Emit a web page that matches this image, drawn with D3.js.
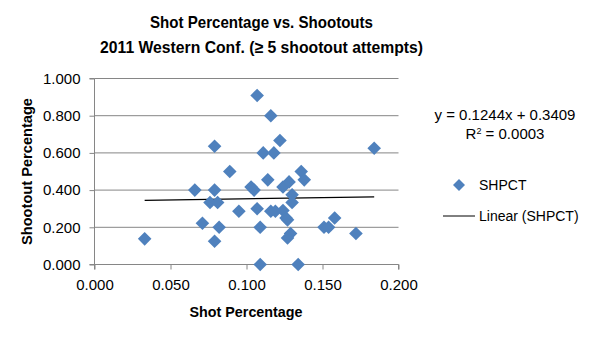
<!DOCTYPE html>
<html><head><meta charset="utf-8">
<script src="https://cdn.jsdelivr.net/npm/d3@7"></script>
<style>body{margin:0;background:#fff;} svg{display:block;font-family:"Liberation Sans",Arial,sans-serif;}</style>
</head><body><svg id="c" width="589" height="340"></svg>
<script>
const shotPct = [0.033,0.066,0.071,0.079,0.079,0.076,0.081,0.079,0.082,0.089,0.095,0.103,0.105,
  0.107,0.116,0.122,0.111,0.118,0.184,0.136,0.138,0.114,0.124,0.128,0.130,0.130,0.107,0.116,0.119,
  0.124,0.126,0.127,0.109,0.129,0.127,0.151,0.154,0.158,0.172,0.109,0.134];
const shootoutPct = [0.138,0.400,0.222,0.636,0.400,0.333,0.333,0.125,0.200,0.500,0.286,0.417,0.400,
  0.909,0.800,0.667,0.600,0.600,0.625,0.500,0.455,0.455,0.417,0.444,0.375,0.333,0.300,0.286,0.286,
  0.290,0.250,0.240,0.200,0.167,0.143,0.200,0.200,0.250,0.167,0.000,0.000];
const xTicks = [0, 0.05, 0.1, 0.15, 0.2];
const yTicks = [0, 0.2, 0.4, 0.6, 0.8, 1.0];
const slope = 0.1244, intercept = 0.3409, r2 = "0.0003";
const titleLines = ["Shot Percentage vs. Shootouts", "2011 Western Conf. (\u2265 5 shootout attempts)"];
const seriesName = "SHPCT";

const svg = d3.select("#c");
const x = d3.scaleLinear().domain([0, 0.2]).range([94.5, 398.5]);
const y = d3.scaleLinear().domain([0, 1]).range([264.5, 78.5]);
const grid = "#868686";

// gridlines
svg.append("g").selectAll("line").data(yTicks).join("line")
  .attr("x1", x(0)).attr("x2", x(0.2)).attr("y1", d => y(d)).attr("y2", d => y(d))
  .attr("stroke", grid).attr("stroke-width", 1);

// y axis
const yAxis = svg.append("g").attr("transform", `translate(${x(0)},0)`)
  .call(d3.axisLeft(y).tickValues(yTicks).tickFormat(d3.format(".3f")).tickSize(5).tickPadding(9));
// x axis
const xAxis = svg.append("g").attr("transform", `translate(0,${y(0)})`)
  .call(d3.axisBottom(x).tickValues(xTicks).tickFormat(d3.format(".3f")).tickSize(5).tickPadding(10));
[yAxis, xAxis].forEach(a => {
  a.select(".domain").attr("stroke", grid);
  a.selectAll(".tick line").attr("stroke", grid);
  a.selectAll(".tick text").attr("fill", "#000").attr("font-size", 15)
    .attr("font-family", "'Liberation Sans',Arial,sans-serif");
});
yAxis.select(".domain").attr("d", `M-5,${y(1)}H0V${y(0)}H-5`);
xAxis.select(".domain").attr("d", `M${x(0)},5V0H${x(0.2)}V5`);

// trendline
const xmin = d3.min(shotPct), xmax = d3.max(shotPct);
svg.append("line").attr("x1", x(xmin)).attr("x2", x(xmax))
  .attr("y1", y(slope*xmin+intercept)).attr("y2", y(slope*xmax+intercept))
  .attr("stroke", "#000").attr("stroke-width", 1.2);

// points
const dia = r => `M0,${-r}L${r},0L0,${r}L${-r},0Z`;
svg.append("g").selectAll("path").data(shotPct.map((v,i)=>[v, shootoutPct[i]])).join("path")
  .attr("d", dia(6.8)).attr("transform", d => `translate(${x(d[0])},${y(d[1])})`)
  .attr("fill", "#4F81BD");

// titles
titleLines.forEach((t,i) => {
  svg.append("text").attr("x", 261.5).attr("y", 28 + i*24.5).attr("text-anchor","middle")
    .attr("font-weight","bold").attr("font-size", 16.5)
    .attr("textLength", i===0 ? 223 : 323).attr("lengthAdjust","spacingAndGlyphs").text(t);
});
svg.append("text").attr("x", 246).attr("y", 317).attr("text-anchor","middle")
  .attr("font-weight","bold").attr("font-size",14.5).attr("textLength",113)
  .attr("lengthAdjust","spacingAndGlyphs").text("Shot Percentage");
svg.append("text").attr("transform","translate(32,171.5) rotate(-90)").attr("text-anchor","middle")
  .attr("font-weight","bold").attr("font-size",14.5).attr("textLength",147)
  .attr("lengthAdjust","spacingAndGlyphs").text("Shootout Percentage");

// equation
svg.append("text").attr("x", 505).attr("y", 120).attr("text-anchor","middle").attr("font-size",15)
  .text(`y = ${slope}x + ${intercept}`);
const r2t = svg.append("text").attr("x", 505).attr("y", 139).attr("text-anchor","middle").attr("font-size",15);
r2t.append("tspan").text("R");
r2t.append("tspan").attr("dy",-5).attr("font-size",9).text("2");
r2t.append("tspan").attr("dy",5).text(` = ${r2}`);

// legend
svg.append("path").attr("d", dia(6)).attr("transform","translate(459,185)").attr("fill","#4F81BD");
svg.append("text").attr("x",479).attr("y",190).attr("font-size",14).text(seriesName);
svg.append("line").attr("x1",443).attr("x2",475).attr("y1",216).attr("y2",216).attr("stroke","#000");
svg.append("text").attr("x",479).attr("y",221).attr("font-size",14).text(`Linear (${seriesName})`);
</script></body></html>
